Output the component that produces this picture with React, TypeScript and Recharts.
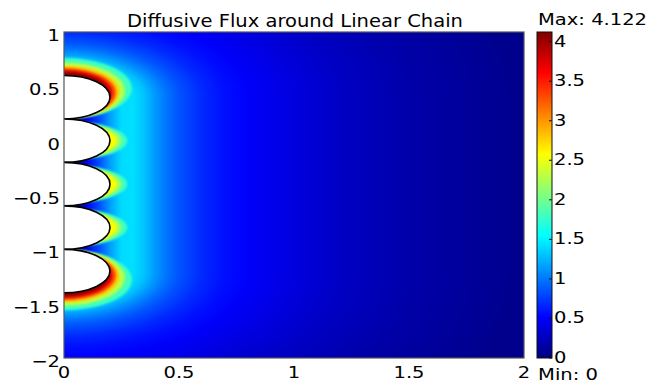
import React from 'react';
import { ComposedChart, XAxis, YAxis, ReferenceArea, Scatter } from 'recharts';

// ---- axes / labels ----
const xTicks = [0, 0.5, 1, 1.5, 2];
const yTicks = [-2, -1.5, -1, -0.5, 0, 0.5, 1];
const cbTicks = [0, 0.5, 1, 1.5, 2, 2.5, 3, 3.5, 4];
const xDomain = [0, 2];
const yDomain = [-2, 1];
const fluxMin = 0;
const fluxMax = 4.122;
const titleText = 'Diffusive Flux around Linear Chain';

// ---- geometry: chain of spheres (centres on x = 0) ----
const chainCenters = [0.4, 0, -0.4, -0.8, -1.2];
const sphereRadius = 0.2;

// ---- background flux vs distance from chain axis ----
const fieldDist = [0, 0.05, 0.1, 0.15, 0.2, 0.25, 0.3, 0.35, 0.4, 0.45, 0.5, 0.6, 0.7, 0.8, 1.0, 1.2, 1.5, 2.0];
const fieldFlux = [0.02, 0.2, 0.45, 0.8, 1.15, 1.4, 1.42, 1.3, 1.12, 0.97, 0.85, 0.68, 0.57, 0.5, 0.38, 0.28, 0.17, 0.05];

// ---- flux contours around the end spheres (top one; bottom mirrored) ----
const endLevels = [1.6, 2.0, 2.6, 3.0, 3.6, 4.0];
const endShift = [0.08, 0.06, 0.05, 0.04, 0.04, 0.04];
const endRx = [0.295, 0.265, 0.24, 0.226, 0.21, 0.19];
const endRy = [0.28, 0.26, 0.238, 0.228, 0.208, 0.186];

// ---- flux contours around the middle spheres ----
const midLevels = [1.6, 2.0, 2.4];
const midRx = [0.275, 0.25, 0.23];
const midRy = [0.18, 0.172, 0.165];

const FONT = '"DejaVu Sans", Verdana, sans-serif';
const STRETCH = 1.22;

function jet(v: number): string {
  const t = Math.max(0, Math.min(1, (v - fluxMin) / (fluxMax - fluxMin)));
  const c = (k: number) => Math.round(255 * Math.max(0, Math.min(1, 1.5 - Math.abs(4 * t - k))));
  return `rgb(${c(3)},${c(2)},${c(1)})`;
}

const fmt = (v: number) => (v < 0 ? '\u2212' + String(Math.abs(v)) : String(v));

const fieldReach = fieldDist[fieldDist.length - 1];
const fieldStops = fieldDist.map((d, i) => (
  <stop key={i} offset={d / fieldReach} stopColor={jet(fieldFlux[i])} />
));

const bandFill = (levels: number[], i: number) =>
  jet(i < levels.length - 1 ? (levels[i] + levels[i + 1]) / 2 : Math.min(fluxMax, levels[i] + 0.15));

const topEnd = chainCenters[0];
const bottomEnd = chainCenters[chainCenters.length - 1];
const chainMid = (topEnd + bottomEnd) / 2;

const endContours = [
  ...endLevels.map((L, i) => ({ key: `t${i}`, cx: 0, cy: topEnd + endShift[i], rx: endRx[i], ry: endRy[i], fill: bandFill(endLevels, i) })),
  ...endLevels.map((L, i) => ({ key: `b${i}`, cx: 0, cy: 2 * chainMid - (topEnd + endShift[i]), rx: endRx[i], ry: endRy[i], fill: bandFill(endLevels, i) })),
];
const midContours = chainCenters.slice(1, -1).flatMap((c, j) =>
  midLevels.map((L, i) => ({ key: `m${j}-${i}`, cx: 0, cy: c, rx: midRx[i], ry: midRy[i], fill: bandFill(midLevels, i) }))
);

const scatterData = chainCenters.map((c) => ({ x: 0, y: c }));

const CLIP = 'url(#plotClip)';

const ClipShape = (p: any) => (
  <defs>
    <clipPath id="plotClip">
      <rect x={p.x} y={p.y} width={p.width} height={p.height} />
    </clipPath>
    <filter id="soft" x="-20%" y="-20%" width="140%" height="140%">
      <feGaussianBlur stdDeviation="1.15" />
    </filter>
  </defs>
);

const BandShape = (p: any) => (
  <g clipPath={CLIP}>
    <defs>
      <linearGradient id="bandGrad" x1="0" y1="0" x2="1" y2="0">
        {fieldStops}
      </linearGradient>
    </defs>
    <rect x={p.x} y={p.y - 1} width={p.width} height={p.height + 2} fill="url(#bandGrad)" />
  </g>
);

const CapShape = (id: string, cy: number) => (p: any) => (
  <g clipPath={CLIP}>
    <defs>
      <radialGradient id={id} cx="0" cy={cy} r="1" fx="0" fy={cy}>
        {fieldStops}
      </radialGradient>
    </defs>
    <rect x={p.x} y={p.y} width={p.width} height={p.height} fill={`url(#${id})`} />
  </g>
);

const ContourShape = (fill: string) => (p: any) => (
  <g clipPath={CLIP}>
    <ellipse
      cx={p.x + p.width / 2}
      cy={p.y + p.height / 2}
      rx={p.width / 2}
      ry={p.height / 2}
      fill={fill}
      filter="url(#soft)"
    />
  </g>
);

const SphereShape = (p: any) => {
  const { x, y, width, height } = p;
  const arc = `M${x},${y} A${width},${height / 2} 0 0 1 ${x},${y + height}`;
  return (
    <g>
      <path d={arc + ' Z'} fill="#ffffff" stroke="none" />
      <path d={arc} fill="none" stroke="#000" strokeWidth={1.6} />
    </g>
  );
};

const FrameShape = (p: any) => (
  <rect x={p.x} y={p.y} width={p.width} height={p.height} fill="none" stroke="#555" strokeWidth={1.2} />
);

const cbAnchors = [0, 0.125, 0.375, 0.625, 0.875, 1];
const ColorbarShape = (p: any) => (
  <g>
    <defs>
      <linearGradient id="cbGrad" x1="0" y1="1" x2="0" y2="0">
        {cbAnchors.map((t, i) => (
          <stop key={i} offset={t} stopColor={jet(fluxMin + t * (fluxMax - fluxMin))} />
        ))}
      </linearGradient>
    </defs>
    <rect x={p.x + p.width + 13} y={p.y} width={15} height={p.height} fill="url(#cbGrad)" stroke="#111" strokeWidth={1} />
  </g>
);

const YTick = (props: any) => {
  const { x, y, payload } = props;
  return (
    <g transform={`translate(${x},${y + 9}) scale(${STRETCH},1)`}>
      <text x={0} y={0} textAnchor="end" fontFamily={FONT} fontSize={16} fill="#000">
        {fmt(payload.value)}
      </text>
    </g>
  );
};

const XTick = (props: any) => {
  const { x, y, payload } = props;
  return (
    <g transform={`translate(${x},${y + 20}) scale(${STRETCH},1)`}>
      <text x={0} y={0} textAnchor="middle" fontFamily={FONT} fontSize={16} fill="#000">
        {fmt(payload.value)}
      </text>
    </g>
  );
};

const CbTick = (props: any) => {
  const { x, y, payload } = props;
  return (
    <g>
      <line x1={x + 25} x2={x + 28} y1={y} y2={y} stroke="#111" strokeWidth={1} />
      <g transform={`translate(${x + 30},${y + 5}) scale(${STRETCH},1)`}>
        <text x={0} y={0} textAnchor="start" fontFamily={FONT} fontSize={16} fill="#000">
          {fmt(payload.value)}
        </text>
      </g>
    </g>
  );
};

export default function App() {
  return (
    <div style={{ position: 'relative', width: 665, height: 383, background: '#fff' }}>
      <style>{'html,body{margin:0;padding:0;overflow:hidden;background:#fff}'}</style>
      <ComposedChart width={665} height={383} margin={{ top: 32, right: 0, bottom: 0, left: 0 }}>
        <XAxis
          dataKey="x"
          type="number"
          domain={xDomain}
          ticks={xTicks}
          allowDataOverflow
          axisLine={false}
          tickLine={false}
          tickSize={0}
          tickMargin={0}
          height={25}
          tick={<XTick />}
          interval={0}
        />
        <YAxis
          yAxisId="main"
          type="number"
          domain={yDomain}
          ticks={yTicks}
          allowDataOverflow
          axisLine={false}
          tickLine={false}
          tickSize={0}
          tickMargin={4}
          width={64}
          tick={<YTick />}
          interval={0}
        />
        <YAxis
          yAxisId="cb"
          orientation="right"
          type="number"
          domain={[fluxMin, fluxMax]}
          ticks={cbTicks}
          allowDataOverflow
          axisLine={false}
          tickLine={false}
          tickSize={0}
          tickMargin={0}
          width={141}
          tick={<CbTick />}
          interval={0}
        />

        <ReferenceArea yAxisId="main" x1={xDomain[0]} x2={xDomain[1]} y1={yDomain[0]} y2={yDomain[1]} ifOverflow="visible" shape={ClipShape} />

        {/* background field: caps around chain ends + band along chain */}
        <ReferenceArea yAxisId="main" x1={0} x2={fieldReach} y1={topEnd} y2={topEnd + fieldReach} ifOverflow="visible" shape={CapShape('capTop', 1)} />
        <ReferenceArea yAxisId="main" x1={0} x2={fieldReach} y1={bottomEnd - fieldReach} y2={bottomEnd} ifOverflow="visible" shape={CapShape('capBot', 0)} />
        <ReferenceArea yAxisId="main" x1={0} x2={fieldReach} y1={bottomEnd} y2={topEnd} ifOverflow="visible" shape={BandShape} />

        {/* flux contours near spheres */}
        {endContours.map((c) => (
          <ReferenceArea key={c.key} yAxisId="main" x1={c.cx - c.rx} x2={c.cx + c.rx} y1={c.cy - c.ry} y2={c.cy + c.ry} ifOverflow="visible" shape={ContourShape(c.fill)} />
        ))}
        {midContours.map((c) => (
          <ReferenceArea key={c.key} yAxisId="main" x1={c.cx - c.rx} x2={c.cx + c.rx} y1={c.cy - c.ry} y2={c.cy + c.ry} ifOverflow="visible" shape={ContourShape(c.fill)} />
        ))}

        {/* spheres */}
        {chainCenters.map((c, i) => (
          <ReferenceArea key={`s${i}`} yAxisId="main" x1={0} x2={sphereRadius} y1={c - sphereRadius} y2={c + sphereRadius} ifOverflow="visible" shape={SphereShape} />
        ))}

        <ReferenceArea yAxisId="main" x1={xDomain[0]} x2={xDomain[1]} y1={yDomain[0]} y2={yDomain[1]} ifOverflow="visible" shape={FrameShape} />
        <ReferenceArea yAxisId="cb" y1={fluxMin} y2={fluxMax} ifOverflow="visible" shape={ColorbarShape} />

        <Scatter yAxisId="main" data={scatterData} dataKey="y" isAnimationActive={false} legendType="none" shape={() => <g />} />
      </ComposedChart>
      <svg width={665} height={383} style={{ position: 'absolute', left: 0, top: 0, pointerEvents: 'none' }}>
        <text x={295} y={26.5} textAnchor="middle" fontFamily={FONT} fontSize={17} fill="#000" textLength={336} lengthAdjust="spacingAndGlyphs">
          {titleText}
        </text>
        <text x={538} y={25} fontFamily={FONT} fontSize={16} fill="#000" textLength={109} lengthAdjust="spacingAndGlyphs">
          {`Max: ${fluxMax}`}
        </text>
        <text x={538} y={379.5} fontFamily={FONT} fontSize={15} fill="#000" textLength={60} lengthAdjust="spacingAndGlyphs">
          {`Min: ${fluxMin}`}
        </text>
      </svg>
    </div>
  );
}
